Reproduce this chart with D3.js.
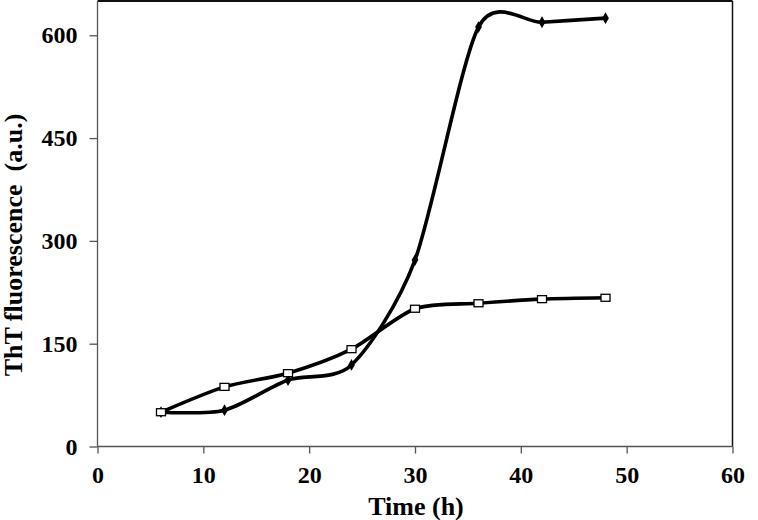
<!DOCTYPE html>
<html><head><meta charset="utf-8">
<script src="https://cdn.jsdelivr.net/npm/d3@7/dist/d3.min.js"></script>
<style>body{margin:0;background:#fff}svg{display:block}text{font-family:"Liberation Serif","Times New Roman",serif;font-weight:bold;fill:#000}</style>
</head><body><svg id="c" width="758" height="520"></svg>
<script>
const times = [6, 12, 18, 24, 30, 36, 42, 48];
const seriesDiamond = [50, 53, 97, 119, 272, 612, 619, 625];
const seriesSquare = [50, 87, 107, 142, 201, 209, 215, 217];
const xTicks = [0, 10, 20, 30, 40, 50, 60];
const yTicks = [0, 150, 300, 450, 600];

const svg = d3.select("#c");
const L = 97.5, R = 732.5, T = 1, B = 446.5;
const x = d3.scaleLinear().domain([0, 60]).range([L, R]);
const y = d3.scaleLinear().domain([0, 650]).range([B, T]);

svg.append("line").attr("x1", L).attr("x2", R).attr("y1", T).attr("y2", T).attr("stroke", "#111").attr("stroke-width", 2);
svg.append("line").attr("x1", R).attr("x2", R).attr("y1", T).attr("y2", B).attr("stroke", "#111").attr("stroke-width", 1.5);

const xa = svg.append("g").attr("transform", `translate(0,${B})`)
  .call(d3.axisBottom(x).tickValues(xTicks).tickSize(7).tickPadding(12).tickFormat(d3.format("d")));
const ya = svg.append("g").attr("transform", `translate(${L},0)`)
  .call(d3.axisLeft(y).tickValues(yTicks).tickSize(8).tickPadding(12).tickFormat(d3.format("d")));
[xa, ya].forEach(g => {
  g.selectAll("path,line").attr("stroke", "#555").attr("stroke-width", 1.3);
  g.selectAll("text").style("font-size", "24px").style("font-family", '"Liberation Serif",serif').style("font-weight", "bold").attr("fill", "#000");
});
xa.select(".domain").attr("d", `M${L},0H${R}`);
ya.select(".domain").attr("d", `M0,${T}V${B}`);

const line = d3.line().x((d, i) => x(times[i])).y(d => y(d)).curve(d3.curveCardinal.tension(0.2));

svg.append("path").datum(seriesSquare).attr("d", line).attr("fill", "none").attr("stroke", "#000").attr("stroke-width", 3.6);
svg.append("path").datum(seriesDiamond).attr("d", line).attr("fill", "none").attr("stroke", "#000").attr("stroke-width", 3.6);

svg.append("g").selectAll("path").data(seriesDiamond).join("path")
  .attr("d", d3.symbol(d3.symbolDiamond, 40)())
  .attr("transform", (d, i) => `translate(${x(times[i])},${y(d)})`)
  .attr("fill", "#000");
svg.append("g").selectAll("rect").data(seriesSquare).join("rect")
  .attr("x", (d, i) => x(times[i]) - 4.5).attr("y", d => y(d) - 3.5)
  .attr("width", 9).attr("height", 7)
  .attr("fill", "#fff").attr("stroke", "#000").attr("stroke-width", 1.3);

svg.append("text").attr("x", (L + R) / 2 + 1).attr("y", 515).attr("text-anchor", "middle").style("font-size", "26px").text("Time (h)");
svg.append("text").attr("transform", `translate(22,245) rotate(-90)`).attr("text-anchor", "middle").style("font-size", "26px").attr("xml:space", "preserve").text("ThT fluorescence  (a.u.)");
</script></body></html>
